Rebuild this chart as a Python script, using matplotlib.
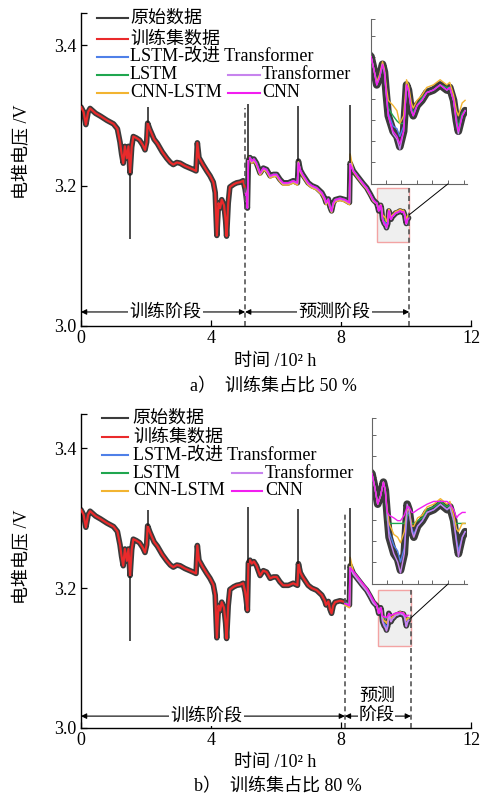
import numpy as np
import matplotlib
matplotlib.use("Agg")
import matplotlib.pyplot as plt
from matplotlib.lines import Line2D
from matplotlib.patches import Rectangle, ConnectionPatch

plt.rcParams["font.family"] = ["Liberation Serif", "Noto Sans CJK SC"]
plt.rcParams["axes.unicode_minus"] = False

# ---------------- stack voltage record (time in 10^2 h, voltage in V) ----------------
time_raw = [0.00, 0.08, 0.15, 0.22, 0.28, 0.45, 0.60, 0.80, 1.00, 1.12,
            1.20, 1.25, 1.30, 1.35, 1.41, 1.46, 1.51, 1.56, 1.61, 1.70,
            1.80, 1.90, 1.97, 2.02, 2.05, 2.12, 2.25, 2.35, 2.50, 2.64,
            2.75, 2.84, 2.95, 3.05, 3.20, 3.35, 3.45, 3.54, 3.58, 3.63,
            3.75, 3.87, 3.97, 4.07, 4.13, 4.18, 4.23, 4.28, 4.33, 4.40,
            4.45, 4.48, 4.53, 4.58, 4.70, 4.79, 4.90, 4.99, 5.05, 5.08,
            5.12, 5.15, 5.20, 5.25, 5.32, 5.40, 5.51, 5.61, 5.71, 5.82,
            5.92, 6.02, 6.12, 6.22, 6.38, 6.53, 6.66, 6.69, 6.75, 6.82,
            6.89, 6.99, 7.10, 7.25, 7.41, 7.50, 7.54, 7.61, 7.66, 7.71,
            7.76, 7.82, 7.97, 8.12, 8.26, 8.28, 8.38, 8.48, 8.58, 8.68,
            8.79, 8.90, 8.99, 9.05, 9.10, 9.13, 9.16, 9.19, 9.22, 9.24,
            9.26, 9.28, 9.33, 9.37, 9.40, 9.44, 9.47, 9.49, 9.52, 9.54,
            9.58, 9.63, 9.68, 9.75, 9.82, 9.89, 9.92, 9.96, 9.99, 10.01,
            10.05, 10.08]

volt_raw = [3.312, 3.305, 3.287, 3.305, 3.310, 3.303, 3.299, 3.293, 3.288, 3.281,
            3.262, 3.245, 3.232, 3.256, 3.239, 3.256, 3.218, 3.255, 3.270, 3.268,
            3.265, 3.258, 3.251, 3.262, 3.289, 3.280, 3.266, 3.260, 3.248, 3.239,
            3.233, 3.230, 3.233, 3.232, 3.228, 3.225, 3.223, 3.221, 3.261, 3.240,
            3.230, 3.221, 3.214, 3.205, 3.190, 3.129, 3.175, 3.168, 3.180, 3.172,
            3.150, 3.128, 3.175, 3.198, 3.202, 3.204, 3.205, 3.207, 3.195, 3.185,
            3.168, 3.236, 3.240, 3.235, 3.238, 3.232, 3.218, 3.225, 3.223, 3.214,
            3.216, 3.216, 3.209, 3.204, 3.204, 3.207, 3.204, 3.235, 3.222, 3.216,
            3.211, 3.204, 3.200, 3.197, 3.190, 3.182, 3.176, 3.181, 3.170, 3.164,
            3.175, 3.180, 3.182, 3.180, 3.176, 3.232, 3.221, 3.215, 3.209, 3.203,
            3.197, 3.188, 3.180, 3.177, 3.175, 3.170, 3.164, 3.167, 3.172, 3.169,
            3.160, 3.152, 3.146, 3.144, 3.140, 3.146, 3.164, 3.162, 3.154, 3.152,
            3.156, 3.158, 3.161, 3.162, 3.164, 3.162, 3.163, 3.158, 3.150, 3.146,
            3.152, 3.154]

# short transients in the raw record
spike_t = [1.51, 2.05, 5.15, 6.69, 8.28]
spike_base = [3.218, 3.289, 3.236, 3.235, 3.232]
spike_tip = [3.124, 3.312, 3.316, 3.313, 3.315]

# ---------------- model predictions: offset from the record, mV ----------------
# (a) 50 % training set, prediction from 5.05 onwards
dev_a_lstm_tf = [0, 0, 0, 2, 0, 0, 0, 0, -1, 0,
                 0, -1, 0, 0, -1, 0, 0, 0, 0, -2,
                 0, 0, 0, 0, 0, 0, 0, 0, 0, 0,
                 0, 0, 0, 0, 0, 0, 0, 2, 0, 0,
                 0, 0, 0, 0, 0, 0,
                 0, 0, 1, 0, 0, 0, 1, 1, 2, 3,
                 4, 2, -1, 0, 1, 1, 0, 0, 0, 0,
                 0, 0, 0, 0, 1, 1, 0, 0]
dev_a_lstm = [0, 0, 1, 4, 1, 0, 0, 1, 0, -1,
              0, 0, 0, 0, 0, -1, 0, 0, 0, -3,
              -1, 0, 0, 0, -1, 0, 0, 0, 0, 0,
              0, 1, 0, 0, 0, 0, 0, 5, 1, 0,
              0, 0, 0, 0, 0, 0,
              0, 0, 1, 0, -1, 0, 1, 3, 6, 6,
              9, 3, -2, 0, 1, 1, 0, 1, 0, 0,
              0, 1, 0, 0, 1, 2, 1, 0]
dev_a_cnn_lstm = [0, -1, 1, 5, -2, -3, -3, -3, -3, -3,
                  -3, -3, -3, -3, -3, -3, -3, -3, -3, -1,
                  -3, -3, -3, -3, -3, -3, -3, -3, -3, -3,
                  -2, -2, -3, -3, -3, -3, -3, 13, -1, -2,
                  -2, -2, -2, -2, -2, -1,
                  0, 0, 1, 1, 1, 1, 3, 6, 10, 10,
                  9, 6, 2, 2, 3, 3, 2, 2, 2, 2,
                  2, 2, 2, 2, 4, 6, 5, 4]
dev_a_tf = [0, 0, 0, 1, 0, -1, -1, -1, -1, -1,
            -1, -1, -1, -1, -1, -1, -1, -1, -1, -2,
            -1, -1, -1, -1, -1, -1, -1, -1, -1, -1,
            -1, -1, -1, -1, -1, -1, -1, 1, 0, 0,
            -1, -1, -1, -1, -1, -1,
            0, 0, 0, 0, 0, 0, 0, 0, -1, -1,
            -1, 0, 0, 0, 0, 0, 0, 0, 0, 0,
            0, 0, 0, 0, -1, -1, 0, 0]
dev_a_cnn = [0, 0, 0, 0, 0, 0, 0, 0, 0, 0,
             0, 0, 0, 0, 0, 0, 0, 0, 0, -3,
             0, 0, 0, 0, 0, 0, 0, 0, 0, 0,
             0, 0, 0, 0, 0, 0, 0, -2, 0, 0,
             0, 0, 0, 0, 0, 0,
             0, 0, 0, 0, 0, 0, 0, 0, 0, 0,
             1, 0, 0, 0, 0, 0, 0, 0, 0, 0,
             0, 0, 0, 0, 0, 0, 0, 0]

# (b) 80 % training set, prediction from 8.12 onwards
dev_b_lstm_tf = [0, 0, 0, 0, 0, 0, 0, 0, 0, 0, 0,
                 0, 0, 0, 0, 0, 0, 1, 2, 3, 3,
                 3, 2, -4, -1, 1, 1, 0, 0, 0, 0,
                 0, 0, 0, 0, 1, 1, 0, 0]
dev_b_lstm = [0, 0, 2, 0, 0, 0, 0, 0, 0, 0, 0,
              0, 0, 0, 0, 0, 0, -2, 5, 11, 13,
              17, 11, -4, -2, 3, 5, 2, 1, 1, 1,
              1, 1, 1, -1, 7, 11, 5, 3]
dev_b_cnn_lstm = [-4, -4, 12, 2, 1, 1, 1, 1, 1, 1, 1,
                  0, 0, 0, 0, 0, 0, 2, 5, 7, 8,
                  10, 8, -2, 0, 2, 4, 3, 2, 2, 2,
                  2, 2, 2, 2, 5, 8, 5, 3]
dev_b_tf = [-1, -1, -2, -1, -1, -1, -1, -1, -1, -1, -1,
            0, 0, 0, 0, 0, 0, 0, 0, 0, -1,
            -1, 0, 0, 0, 0, 0, 0, 0, 0, 0,
            0, 0, 0, 0, 0, -1, 0, 0]
dev_b_cnn = [-2, -1, -3, 3, 3, 3, 3, 3, 3, 3, 2,
             0, 0, 0, 0, 0, 0, 1, 8, 13, 14,
             18, 14, -1, 1, 7, 9, 6, 5, 3, 3,
             1, 3, 1, 4, 9, 14, 9, 7]

model_names = ["LSTM-改进 Transformer", "LSTM", "CNN-LSTM", "Transformer", "CNN"]
model_colors = ["#4F80E8", "#1FA64F", "#F2B431", "#C784EE", "#F21EF0"]
RAW_C = "#3b3b3b"
TRAIN_C = "#EA2A2B"

split_a, stop_a = 5.05, 10.10
split_b, stop_b = 8.12, 10.15

t = np.array(time_raw)
v = np.array(volt_raw)

FIG_W, FIG_H = 490, 798
fig = plt.figure(figsize=(FIG_W / 100, FIG_H / 100), dpi=100)


def box(l, tp, r, b):
    return [l / FIG_W, 1 - b / FIG_H, (r - l) / FIG_W, (b - tp) / FIG_H]


def draw_series(target, split, devs, band_lw, line_lw, train_lw):
    target.plot(t, v, color=RAW_C, lw=band_lw, solid_joinstyle="round",
                solid_capstyle="round", zorder=2)
    tr = t <= split
    target.plot(t[tr], v[tr], color=TRAIN_C, lw=train_lw, zorder=3)
    pm = t >= split
    for k, (dev, c) in enumerate(zip(devs, model_colors)):
        target.plot(t[pm], v[pm] + np.asarray(dev) / 1000.0, color=c,
                    lw=line_lw, zorder=4 + 0.1 * k)


def draw_legend(ax, col1, col2, rows):
    labels = ["原始数据", "训练集数据"] + model_names
    colors = [RAW_C, TRAIN_C] + model_colors
    places = [col1 + (rows[i],) for i in range(5)] + [col2 + (rows[3],), col2 + (rows[4],)]
    for (a, b, xt, y), lab, c in zip(places, labels, colors):
        ax.add_line(Line2D([a, b], [y, y], transform=ax.transAxes, color=c,
                           lw=1.5, clip_on=False, zorder=8))
        ax.text(xt, y, lab, transform=ax.transAxes, ha="left", va="center",
                fontsize=13, zorder=8)


def stage_arrow(ax, x0, x1, y):
    ax.annotate("", xy=(x0, y), xytext=(x1, y),
                arrowprops=dict(arrowstyle="<|-|>", color="k", lw=0.8,
                                mutation_scale=8, shrinkA=0, shrinkB=0),
                zorder=7)


def style_main(ax, ytop, label_y):
    ax.set_xlim(0, 12)
    ax.set_ylim(3.0, ytop)
    ax.set_xticks([0, 4, 8, 12])
    ax.set_xticklabels(["0", "4", "8", "12"])
    ax.set_yticks([3.0, 3.2, 3.4, ytop])
    ax.set_yticklabels(["3.0", "3.2", "3.4", ""])
    for s in ("top", "right"):
        ax.spines[s].set_visible(False)
    for s in ("left", "bottom"):
        ax.spines[s].set_linewidth(1.0)
    ax.tick_params(direction="in", length=4, width=0.9, labelsize=13, pad=3)
    ax.set_ylabel("电堆电压 /V", fontsize=13)
    ax.yaxis.set_label_coords(-0.128, label_y)


def style_inset(ins, ylim):
    ins.set_xlim(9.10, 10.10)
    ins.set_ylim(*ylim)
    y0, y1 = ylim
    ins.set_yticks([y0 + (y1 - y0) * f for f in
                    (22 / 165, 43 / 165, 64 / 165, 85 / 165, 106 / 165, 127 / 165, 148 / 165, 1.0)])
    ins.set_xticks([9.10 + f for f in (15 / 96, 30 / 96, 46 / 96, 61 / 96, 77 / 96, 93 / 96)])
    ins.set_xticklabels([])
    ins.set_yticklabels([])
    for s in ("top", "right"):
        ins.spines[s].set_visible(False)
    for s in ("left", "bottom"):
        ins.spines[s].set_linewidth(0.8)
        ins.spines[s].set_color("#666666")
    ins.tick_params(direction="in", length=3, width=0.7, colors="#666666")
    ins.patch.set_alpha(0)


def zoom_box(ax, ins, x0, x1, y0, y1):
    ax.add_patch(Rectangle((x0, y0), x1 - x0, y1 - y0, facecolor="#EFEFEF",
                           edgecolor="#F3A3A3", lw=1.0, zorder=1.5))
    con = ConnectionPatch(xyA=(x1, (y0 + y1) / 2), coordsA=ax.transData,
                          xyB=(0.8, 0.0), coordsB=ins.transAxes,
                          color="k", lw=0.7)
    fig.add_artist(con)


# ---------------- panel (a) ----------------
ax_a = fig.add_axes(box(81, 13, 471, 326))
ins_a = fig.add_axes(box(371, 19, 467, 184))
devs_a = [dev_a_lstm_tf, dev_a_lstm, dev_a_cnn_lstm, dev_a_tf, dev_a_cnn]

draw_series(ax_a, split_a, devs_a, band_lw=4.0, line_lw=1.2, train_lw=1.6)
ax_a.vlines(spike_t, spike_base, spike_tip, color="#1a1a1a", lw=1.1, zorder=6)
ax_a.vlines([split_a], 3.0, 3.31, colors="#555555", linestyles=(0, (3, 2)), lw=1.2, zorder=5)
ax_a.vlines([stop_a], 3.0, 3.197, colors="#555555", linestyles=(0, (3, 2)), lw=1.2, zorder=5)
zoom_box(ax_a, ins_a, 9.10, 10.10, 3.120, 3.197)

stage_arrow(ax_a, 0.0, split_a, 3.020)
stage_arrow(ax_a, split_a, stop_a, 3.020)
ax_a.text(2.6, 3.020, "训练阶段", ha="center", va="center", fontsize=13, zorder=8,
          bbox=dict(fc="white", ec="none", pad=1.0))
ax_a.text(7.8, 3.020, "预测阶段", ha="center", va="center", fontsize=13, zorder=8,
          bbox=dict(fc="white", ec="none", pad=1.0))

style_main(ax_a, 3.446, 0.556)
draw_legend(ax_a, (0.041, 0.1205, 0.1256), (0.377, 0.459, 0.464),
            (0.983, 0.916, 0.861, 0.802, 0.745))

draw_series(ins_a, split_a, devs_a, band_lw=5.5, line_lw=1.0, train_lw=1.2)
style_inset(ins_a, (3.1255, 3.1896))

# ---------------- panel (b) ----------------
ax_b = fig.add_axes(box(81, 414, 471, 728))
ins_b = fig.add_axes(box(372, 418, 467, 584))
devs_b = [dev_b_lstm_tf, dev_b_lstm, dev_b_cnn_lstm, dev_b_tf, dev_b_cnn]

draw_series(ax_b, split_b, devs_b, band_lw=4.0, line_lw=1.2, train_lw=1.6)
ax_b.vlines(spike_t, spike_base, spike_tip, color="#1a1a1a", lw=1.1, zorder=6)
ax_b.vlines([split_b], 3.0, 3.307, colors="#555555", linestyles=(0, (3, 2)), lw=1.2, zorder=5)
ax_b.vlines([stop_b], 3.0, 3.197, colors="#555555", linestyles=(0, (3, 2)), lw=1.2, zorder=5)
zoom_box(ax_b, ins_b, 9.15, 10.14, 3.117, 3.197)

stage_arrow(ax_b, 0.0, split_b, 3.017)
stage_arrow(ax_b, split_b, stop_b, 3.017)
ax_b.text(3.85, 3.017, "训练阶段", ha="center", va="center", fontsize=13, zorder=8,
          bbox=dict(fc="white", ec="none", pad=1.0))
ax_b.text(9.1, 3.045, "预测", ha="center", va="center", fontsize=13, zorder=8)
ax_b.text(9.1, 3.017, "阶段", ha="center", va="center", fontsize=13, zorder=8,
          bbox=dict(fc="white", ec="none", pad=0.5))

style_main(ax_b, 3.449, 0.545)
draw_legend(ax_b, (0.054, 0.1205, 0.133), (0.387, 0.464, 0.472),
            (0.987, 0.927, 0.869, 0.812, 0.755))

draw_series(ins_b, split_b, devs_b, band_lw=5.5, line_lw=1.0, train_lw=1.2)
style_inset(ins_b, (3.135, 3.1953))

# ---------------- axis titles and captions ----------------
fig.text(275 / FIG_W, 1 - 362 / FIG_H, "时间 /10² h", ha="center", va="center", fontsize=13)
fig.text(273 / FIG_W, 1 - 387 / FIG_H, "a）  训练集占比 50 %", ha="center", va="center", fontsize=13)
fig.text(275 / FIG_W, 1 - 763 / FIG_H, "时间 /10² h", ha="center", va="center", fontsize=13)
fig.text(278 / FIG_W, 1 - 787 / FIG_H, "b）  训练集占比 80 %", ha="center", va="center", fontsize=13)

fig.savefig("out.png", dpi=100)
